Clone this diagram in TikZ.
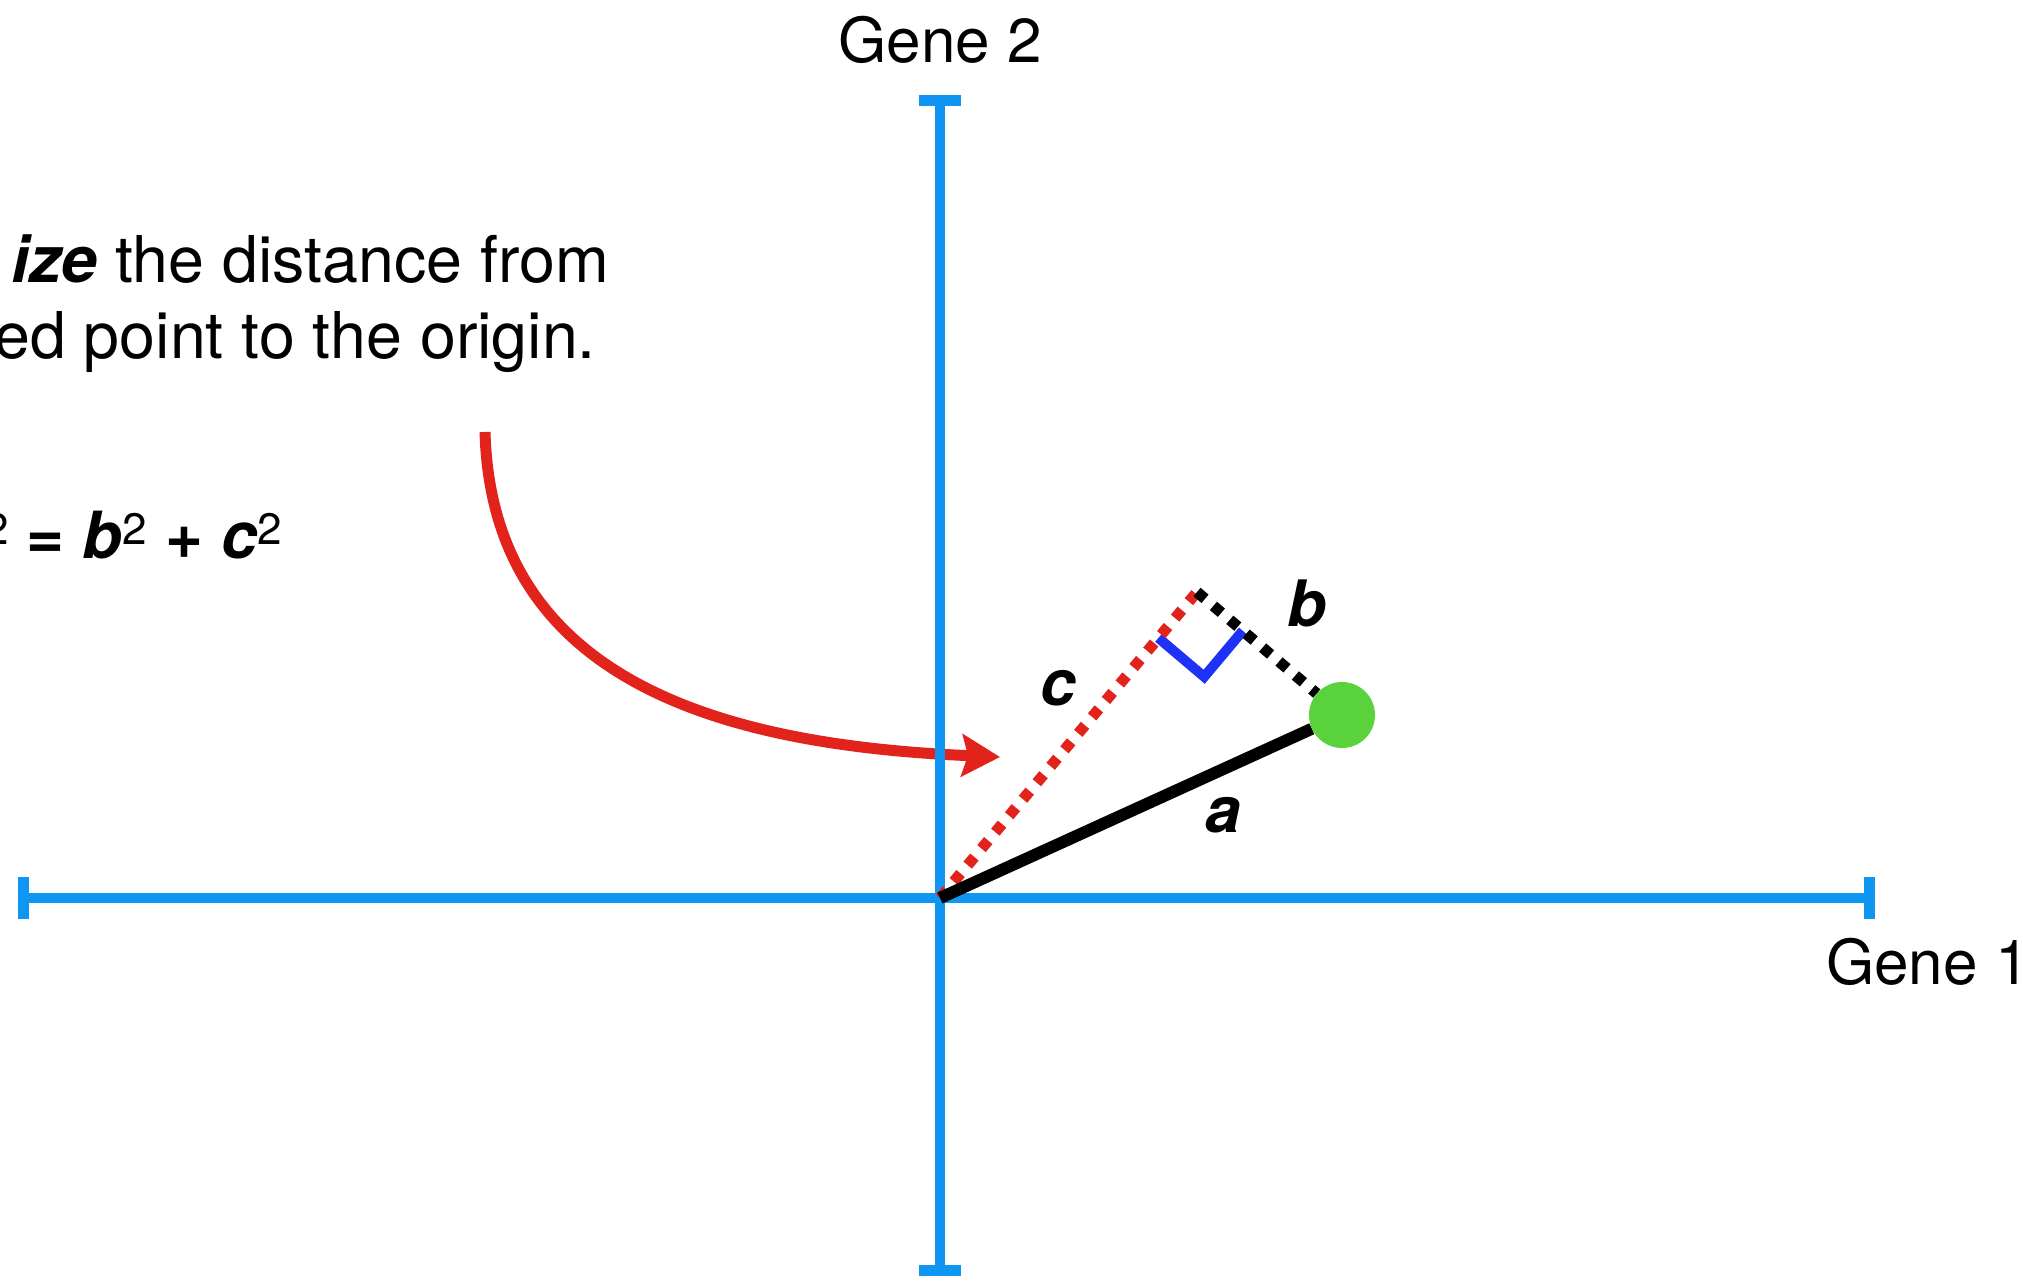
\documentclass[tikz,border=0pt]{standalone}
\usepackage{fontspec}
\setmainfont{TeX Gyre Heros}
\usetikzlibrary{arrows.meta,calc}
\definecolor{axisblue}{RGB}{14,150,242}
\definecolor{markblue}{RGB}{30,50,245}
\definecolor{ptgreen}{RGB}{90,210,60}
\definecolor{arrowred}{RGB}{225,35,28}
\newcommand{\supdigit}{\raisebox{14pt}{\fontsize{44}{44}\selectfont\mdseries\upshape 2}}
\begin{document}
\begin{tikzpicture}[x=1pt,y=-1pt,
  axisline/.style={draw=axisblue,line width=10pt},
  axiscap/.style={draw=axisblue,line width=11pt},
  bigtext/.style={inner sep=0pt,font=\fontsize{64.5}{76}\selectfont},
  genetext/.style={inner sep=0pt,font=\fontsize{62}{74}\selectfont},
  sidelbl/.style={inner sep=0pt,font=\fontsize{64}{76}\selectfont\bfseries\itshape},
  dotline/.style={line width=11pt,dash pattern=on 10.5pt off 11pt},
  solidline/.style={draw=black,line width=12pt},
  rightmark/.style={draw=markblue,line width=10pt,miter limit=10},
  curvearrow/.style={draw=arrowred,line width=11pt,-{Stealth[length=38pt,width=42pt,inset=6pt]}}
]
\useasboundingbox (0,0) rectangle (2023,1282);

% coordinates
\coordinate (O) at (940,898);
\coordinate (xl) at (23.5,898);
\coordinate (xr) at (1869,898);
\coordinate (yt) at (940,100);
\coordinate (yb) at (940,1270);
\coordinate (C) at (1197,592);
\coordinate (as) at (485,432);
\coordinate (ae) at (1000,757);

% red curved arrow (below the axes)
\draw[curvearrow] (as) .. controls (492,680) and (720,745) .. (ae);

% axes
\draw[axisline] (xl) -- (xr);
\draw[axisline] (yt) -- (yb);
\draw[axiscap] ($(xl)+(0,-21)$) -- ($(xl)+(0,21)$);
\draw[axiscap] ($(xr)+(0,-21)$) -- ($(xr)+(0,21)$);
\draw[axiscap] ($(yt)+(-21,0)$) -- ($(yt)+(21,0)$);
\draw[axiscap] ($(yb)+(-21,0)$) -- ($(yb)+(21,0)$);

% point
\node[circle,fill=ptgreen,minimum size=66pt,inner sep=0pt] (P) at (1342,715) {};

% right angle mark
\coordinate (ra1) at ($(C)!60pt!(O)$);
\coordinate (ra2) at ($(C)!60pt!(P)$);
\coordinate (rav) at ($(ra1)+(ra2)-(C)$);
\draw[rightmark] (ra1) -- (rav) -- (ra2);

% segments
\draw[dotline,draw=arrowred] (O) -- (C);
\draw[dotline,draw=black] (C) -- (P);
\draw[solidline] (O) -- (P);

% labels
\node[sidelbl] (la) at (1223,815) {a};
\node[sidelbl] (lb) at (1307,603) {b};
\node[sidelbl] (lc) at (1058,688) {c};

\node[genetext,anchor=base] (g2) at (940,62) {Gene 2};
\node[genetext,anchor=base west] (g1) at (1826,984) {Gene 1};

\node[bigtext,anchor=base west] (t1) at (11,282) {\textbf{\textit{ize}} the distance from};
\node[bigtext,anchor=base east] (t2) at (596,358) {ed point to the origin.};
\node[inner sep=0pt,anchor=base east,font=\fontsize{65}{76}\selectfont\bfseries] (t3) at (282,558)
  {\supdigit{} = \textit{b}\supdigit{} + \textit{c}\supdigit};
\end{tikzpicture}
\end{document}
